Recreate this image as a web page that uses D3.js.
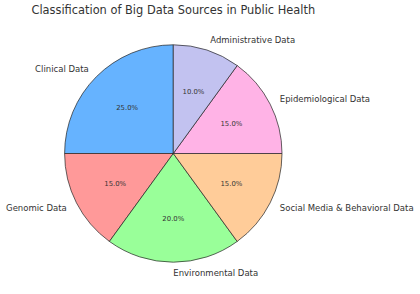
<!DOCTYPE html>
<html>
<head>
<meta charset="utf-8">
<script src="https://cdn.jsdelivr.net/npm/d3@7"></script>
<style>
  body { margin: 0; background: #fff; }
  text { font-family: "DejaVu Sans", sans-serif; fill: #333; }
</style>
</head>
<body>
<div id="chart"></div>
<script>
var categories = ["Clinical Data", "Genomic Data", "Environmental Data",
  "Social Media & Behavioral Data", "Epidemiological Data", "Administrative Data"];
var shares = [25, 15, 20, 15, 15, 10];
var colors = ["#66b3ff", "#ff9999", "#99ff99", "#ffcc99", "#ffb3e6", "#c2c2f0"];

var width = 420, height = 294;
var cx = 173.3, cy = 153.5, radius = 108.7;

var svg = d3.select("#chart")
  .append("svg")
  .attr("width", width)
  .attr("height", height);

svg.append("text")
  .attr("x", cx)
  .attr("y", 14)
  .attr("text-anchor", "middle")
  .style("font-size", "11.4px")
  .text("Classification of Big Data Sources in Public Health");

// matplotlib style: start at 12 o'clock, go counter-clockwise
var pie = d3.pie()
  .sort(null)
  .startAngle(0)
  .endAngle(-2 * Math.PI);

var arcs = pie(shares);

var arc = d3.arc().innerRadius(0).outerRadius(radius);
var color = d3.scaleOrdinal().domain(categories).range(colors);

var g = svg.append("g").attr("transform", "translate(" + cx + "," + cy + ")");

g.selectAll("path")
  .data(arcs)
  .enter().append("path")
    .attr("d", arc)
    .style("fill", function(d, i) { return color(categories[i]); })
    .style("stroke", "#222")
    .style("stroke-width", 0.7);

function mid(d) { return (d.startAngle + d.endAngle) / 2; }

// category labels at 1.1 r
g.selectAll("text.label")
  .data(arcs)
  .enter().append("text")
    .attr("class", "label")
    .attr("x", function(d) { return Math.sin(mid(d)) * radius * 1.1; })
    .attr("y", function(d) { return -Math.cos(mid(d)) * radius * 1.1; })
    .attr("dy", "0.35em")
    .attr("text-anchor", function(d) { return Math.sin(mid(d)) > 0 ? "start" : "end"; })
    .style("font-size", "8.5px")
    .text(function(d, i) { return categories[i]; });

// percentages at 0.6 r
g.selectAll("text.pct")
  .data(arcs)
  .enter().append("text")
    .attr("class", "pct")
    .attr("x", function(d) { return Math.sin(mid(d)) * radius * 0.6; })
    .attr("y", function(d) { return -Math.cos(mid(d)) * radius * 0.6; })
    .attr("dy", "0.35em")
    .attr("text-anchor", "middle")
    .style("font-size", "6.9px")
    .text(function(d) { return d.value.toFixed(1) + "%"; });
</script>
</body>
</html>
